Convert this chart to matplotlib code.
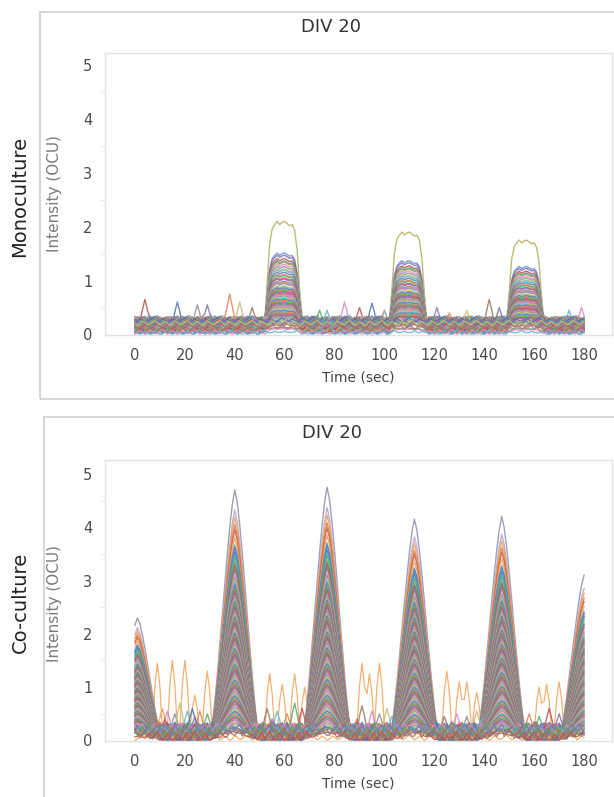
import numpy as np
import matplotlib
matplotlib.use("Agg")
import matplotlib.pyplot as plt
from matplotlib.patches import Rectangle
from matplotlib.ticker import MultipleLocator

# ---------------- shared data ----------------
time_s = np.arange(0, 181, 1)
x_ticks = [0, 20, 40, 60, 80, 100, 120, 140, 160, 180]
y_ticks = [0, 1, 2, 3, 4, 5]
palette = ['#4C72B0', '#DD8452', '#55A868', '#C44E52', '#8172B3',
           '#937860', '#DA8BC3', '#8C8C8C', '#CCB974', '#64B5CD']
wiggle_top = [0.00, 0.04, 0.07, 0.03, -0.02, 0.01, 0.05, 0.02, -0.03, 0.00, 0.06, 0.03, -0.01]
wiggle_bottom = [0.00, 0.08, 0.15, 0.06, -0.04, 0.02, 0.12, 0.05, -0.05, 0.00, 0.10, 0.04, -0.02, 0.07, 0.13]
bump_profile = [0.3, 0.7, 1.0, 0.7, 0.3]
spike_profile = [0.15, 0.7, 1.0, 0.7, 0.15]

# ---------------- Monoculture (top) ----------------
mono_burst_start = [52, 102, 149]
mono_burst_max = [2.1, 1.9, 1.75]
mono_profile = [0.05, 0.45, 0.80, 0.93, 0.97, 1.00, 0.97, 0.99, 1.00, 0.98, 0.96, 0.97, 0.92, 0.75, 0.40, 0.05]
mono_levels = [1.0, 0.72, 0.70, 0.67, 0.65, 0.64, 0.62, 0.60, 0.58, 0.57, 0.55, 0.53, 0.52, 0.50,
               0.49, 0.47, 0.46, 0.45, 0.43, 0.42, 0.41, 0.40, 0.39, 0.38, 0.37, 0.36, 0.35, 0.34,
               0.33, 0.32, 0.31, 0.30, 0.29, 0.28, 0.27, 0.26, 0.25, 0.24, 0.23, 0.22, 0.21, 0.20,
               0.19, 0.18, 0.17, 0.16, 0.15, 0.14, 0.13, 0.12, 0.11, 0.10, 0.09, 0.08, 0.07, 0.06,
               0.05, 0.04, 0.03, 0.02]
mono_baseline = [0.22, 0.25, 0.18, 0.27, 0.12, 0.20, 0.08, 0.24, 0.15, 0.28, 0.05, 0.19, 0.23, 0.10,
                 0.26, 0.14, 0.21, 0.07, 0.17, 0.25, 0.11, 0.22, 0.04, 0.16, 0.27, 0.09, 0.20, 0.13,
                 0.24, 0.06, 0.18, 0.26, 0.12, 0.21, 0.03, 0.15, 0.23, 0.10, 0.19, 0.25, 0.08, 0.17,
                 0.22, 0.05, 0.14, 0.27, 0.11, 0.20, 0.07, 0.16, 0.24, 0.09, 0.18, 0.13, 0.21, 0.06,
                 0.02, 0.12, 0.19, 0.01]
mono_bump_t = [4, 17, 25, 29, 38, 42, 47, 74, 77, 84, 90, 95, 100, 121, 126, 133, 142, 146, 174, 179]
mono_bump_h = [0.65, 0.60, 0.55, 0.55, 0.75, 0.60, 0.50, 0.45, 0.45, 0.60, 0.50, 0.58, 0.45, 0.50,
               0.40, 0.45, 0.65, 0.50, 0.45, 0.50]
mono_top_colors = ['#B0B05A', '#6F8FD0', '#7B6FB8', '#B05050', '#4F9A8A', '#8FA050']

# ---------------- Co-culture (bottom) ----------------
co_burst_peak = [1, 40, 77, 112, 147, 180]
co_burst_max = [2.3, 4.7, 4.75, 4.15, 4.2, 3.1]
co_profile = [0.0, 0.06, 0.15, 0.26, 0.38, 0.50, 0.62, 0.74, 0.85, 0.94, 1.0,
              0.95, 0.86, 0.75, 0.63, 0.50, 0.38, 0.26, 0.15, 0.06, 0.0]
co_levels = [1.0, 0.92, 0.89, 0.86, 0.84, 0.81, 0.78, 0.77, 0.76, 0.75, 0.74, 0.73, 0.71, 0.70,
             0.69, 0.68, 0.66, 0.65, 0.64, 0.63, 0.62, 0.61,
             0.605, 0.595, 0.59, 0.583, 0.577, 0.57, 0.565, 0.558, 0.552, 0.545, 0.54, 0.533,
             0.527, 0.52, 0.515, 0.508, 0.502, 0.495, 0.49, 0.483, 0.477, 0.47, 0.465, 0.458,
             0.452, 0.445, 0.44, 0.433, 0.427, 0.42, 0.415, 0.408, 0.402, 0.395, 0.39, 0.383,
             0.377, 0.37, 0.365, 0.358, 0.352, 0.345, 0.34, 0.333, 0.327, 0.32, 0.315, 0.308,
             0.302, 0.295, 0.29, 0.283, 0.277, 0.27, 0.265, 0.258, 0.252, 0.245, 0.24, 0.233,
             0.227, 0.22, 0.215, 0.208, 0.202, 0.195, 0.19, 0.183, 0.177, 0.17, 0.165, 0.158,
             0.152, 0.145, 0.14, 0.133, 0.127, 0.12, 0.115, 0.108, 0.102, 0.095, 0.09, 0.083,
             0.077, 0.07, 0.065, 0.058, 0.052, 0.045, 0.04, 0.033, 0.027, 0.02]
co_baseline = [0.06, 0.12, 0.02, 0.16, 0.08, 0.00, 0.10, 0.14, 0.04, 0.18, 0.01, 0.09, 0.13, 0.05,
               0.17, 0.07, 0.00, 0.11, 0.03, 0.15, 0.08, 0.02, 0.12, 0.19, 0.04, 0.10, 0.14, 0.01,
               0.16, 0.06, 0.11, 0.03, 0.17, 0.05, 0.09, 0.13, 0.00]
co_bump_t = [11, 13, 16, 18, 21, 23, 26, 29, 12, 24, 53, 57, 61, 64, 67, 55, 91, 95, 98, 101, 103,
             89, 124, 129, 133, 137, 139, 127, 158, 162, 166, 170, 160]
co_bump_h = [0.60, 0.55, 0.50, 0.70, 0.55, 0.60, 0.55, 0.50, 0.40, 0.45, 0.60, 0.55, 0.50, 0.70,
             0.60, 0.40, 0.65, 0.55, 0.50, 0.60, 0.45, 0.40, 0.45, 0.50, 0.45, 0.55, 0.40, 0.35,
             0.50, 0.45, 0.60, 0.50, 0.35]
co_spike_t = [9, 15, 20, 24, 29, 54, 59, 64, 68, 91, 94, 98, 125, 130, 133, 137, 162, 165, 170, 174]
co_spike_h = [1.45, 1.50, 1.50, 0.85, 1.30, 1.25, 1.05, 1.25, 1.00, 1.45, 1.25, 1.45, 1.30, 1.10,
              1.10, 0.90, 1.00, 1.05, 1.10, 0.95]
co_top_colors = ['#8E8EAA', '#B9A3C8', '#E8A060', '#E07B39', '#D0604A', '#E8A060',
                 '#4FA3B8', '#4C72B0', '#6C9BD2', '#4C72B0', '#64B5CD', '#55A868']


def put_shape(y, first_idx, profile, height):
    for k, p in enumerate(profile):
        idx = first_idx + k
        if 0 <= idx < len(y):
            y[idx] = max(y[idx], height * p)


def base_curve(level, wiggle, shift):
    w = np.roll(np.resize(np.array(wiggle), len(time_s)), shift)
    return np.clip(level + w, 0, None)


W, H = 614, 797
fig = plt.figure(figsize=(W / 100, H / 100), dpi=100)
fig.patch.set_facecolor('white')

# outer boxes
fig.patches.append(Rectangle((40 / W, 1 - 399 / H), 1.2, (399 - 12) / H, transform=fig.transFigure,
                             fill=False, edgecolor='#d6d6d6', lw=1.5))
fig.patches.append(Rectangle((44 / W, -0.2), 1.2, 0.2 + 1 - 417 / H, transform=fig.transFigure,
                             fill=False, edgecolor='#d6d6d6', lw=1.5))

ax1 = fig.add_axes([105 / W, 1 - 335 / H, (612 - 105) / W, (335 - 53) / H])
ax2 = fig.add_axes([105 / W, 1 - 741 / H, (612 - 105) / W, (741 - 460) / H])

# ---- top traces ----
n1 = len(mono_levels)
traces1 = []
for i in range(n1):
    y = base_curve(mono_baseline[i % len(mono_baseline)], wiggle_top, i * 5)
    for s, m in zip(mono_burst_start, mono_burst_max):
        put_shape(y, s, mono_profile, mono_levels[i] * m)
    traces1.append(y)
for j, (bt, bh) in enumerate(zip(mono_bump_t, mono_bump_h)):
    ti = (j * 7 + 3) % n1
    put_shape(traces1[ti], bt - 2, bump_profile, bh)
for i in range(n1):
    c = mono_top_colors[i] if i < len(mono_top_colors) else palette[i % len(palette)]
    ax1.plot(time_s, traces1[i], color=c, lw=1.0, alpha=0.85)

# ---- bottom traces ----
n2 = len(co_levels)
traces2 = []
for i in range(n2):
    y = base_curve(co_baseline[i % len(co_baseline)], wiggle_bottom, i * 3)
    for pk, m in zip(co_burst_peak, co_burst_max):
        put_shape(y, pk - len(co_profile) // 2, co_profile, co_levels[i] * m)
    traces2.append(y)
for j, (bt, bh) in enumerate(zip(co_bump_t, co_bump_h)):
    ti = (j * 11 + 5) % n2
    put_shape(traces2[ti], bt - 2, bump_profile, bh)
spike = base_curve(0.03, wiggle_top, 4)
for st, sh in zip(co_spike_t, co_spike_h):
    put_shape(spike, st - 2, spike_profile, sh)
ax2.plot(time_s, spike, color='#F2A860', lw=0.9, alpha=0.9)
for i in range(n2):
    c = co_top_colors[i] if i < len(co_top_colors) else palette[i % len(palette)]
    ax2.plot(time_s, traces2[i], color=c, lw=1.0, alpha=0.85)

for ax, ytop in ((ax1, 5.22), (ax2, 5.26)):
    ax.set_xlim(-12, 191.2)
    ax.set_ylim(-0.01, ytop)
    ax.set_xticks(x_ticks)
    ax.set_yticks(y_ticks)
    ax.yaxis.set_minor_locator(MultipleLocator(0.5))
    ax.tick_params(axis='both', which='major', length=0, labelsize=10.5, labelcolor='#4a4a4a')
    ax.tick_params(axis='x', pad=9)
    ax.tick_params(axis='y', pad=9)
    ax.tick_params(axis='y', which='minor', length=3, color='#e6e6e6')
    for sp in ax.spines.values():
        sp.set_color('#e2e2e2')
        sp.set_linewidth(1.0)
    ax.set_xlabel('Time (sec)', fontsize=10, color='#444444', labelpad=6)

fig.text(54 / W, 1 - 194 / H, 'Intensity (OCU)', rotation=90, ha='center', va='center',
         fontsize=11, color='#7a7a7a')
fig.text(54 / W, 1 - 603 / H, 'Intensity (OCU)', rotation=90, ha='center', va='center',
         fontsize=11, color='#7a7a7a')
fig.text(331 / W, 1 - 27 / H, 'DIV 20', ha='center', va='center', fontsize=13, color='#333333')
fig.text(332 / W, 1 - 433 / H, 'DIV 20', ha='center', va='center', fontsize=13, color='#333333')
fig.text(20 / W, 1 - 196 / H, 'Monoculture', rotation=90, ha='center', va='center',
         fontsize=14, color='#222222')
fig.text(20 / W, 1 - 602 / H, 'Co-culture', rotation=90, ha='center', va='center',
         fontsize=14, color='#222222')

fig.savefig('out.png', dpi=100, facecolor='white')
